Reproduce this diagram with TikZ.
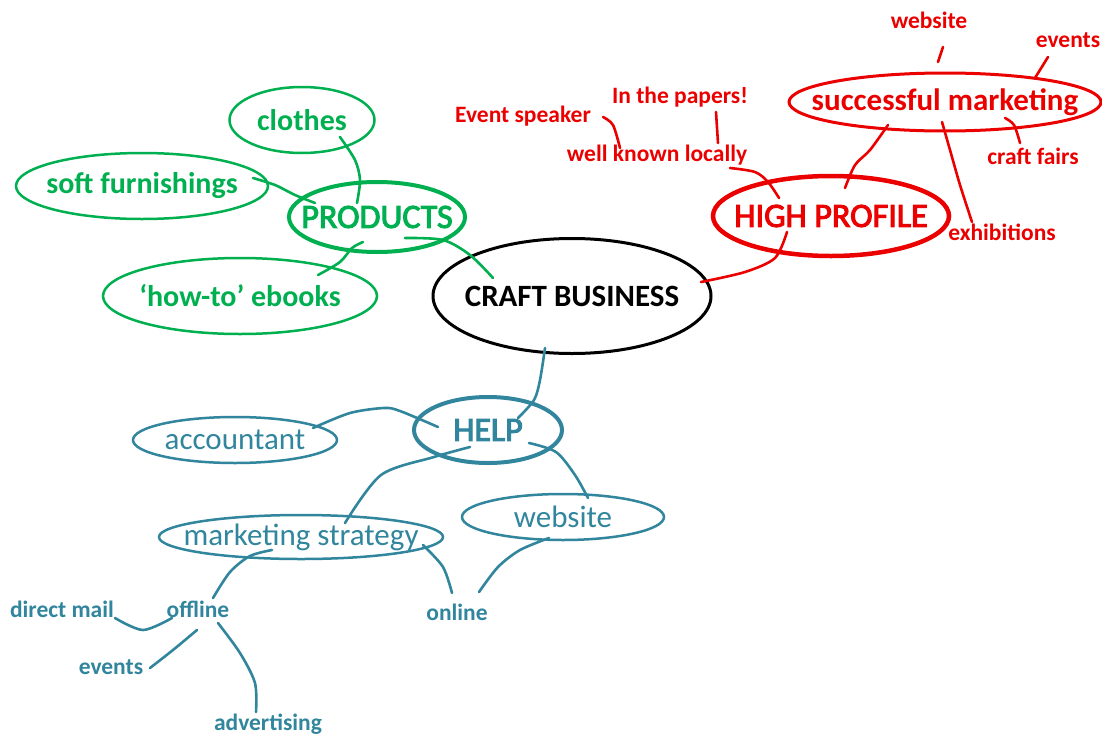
\documentclass[tikz,border=0pt]{standalone}
\usepackage{fontspec}
\setmainfont{Carlito}
\newfontfamily\meio[FakeBold=3]{Carlito}
\usetikzlibrary{shapes.geometric,calc}
\definecolor{verde}{RGB}{0,176,80}
\definecolor{vermelho}{RGB}{235,0,0}
\definecolor{azul}{RGB}{49,133,156}
\tikzset{
  bolha/.style={ellipse, draw, inner sep=-40pt},
  fina/.style={line width=2.5pt},
  grossa/.style={line width=4pt},
  ramo/.style={line width=2.6pt, line cap=round, line join=round},
  grande/.style={font=\fontsize{30}{34}\selectfont\bfseries},
  titulo/.style={font=\fontsize{34}{38}\selectfont\meio},
  medio/.style={font=\fontsize{31}{35}\selectfont},
  pequeno/.style={font=\fontsize{23.5}{26}\selectfont\bfseries, inner sep=1pt}
}
\begin{document}
\begin{tikzpicture}[x=1pt, y=-1pt]
            \useasboundingbox (0,0) rectangle (1102,736);
            % Centro
            \node[bolha, line width=3pt, minimum width=278pt, minimum height=115pt, font=\fontsize{31}{35}\selectfont\bfseries] (craft) at (572,296) {CRAFT BUSINESS};
            % Produtos (verde)
            \begin{scope}[verde]
            \node[bolha, grossa, minimum width=176pt, minimum height=70pt, titulo] (prod) at (377,217) {PRODUCTS};
            \node[bolha, fina, minimum width=145pt, minimum height=66pt, grande] (clothes) at (302,120) {clothes};
            \node[bolha, fina, minimum width=252pt, minimum height=66pt, grande] (soft) at (142,186) {soft furnishings};
            \node[bolha, fina, minimum width=274pt, minimum height=76pt, grande] (howto) at (240,296) {‘how-to’ ebooks};
            \draw[ramo] plot[smooth] coordinates {($(prod)+(28,21)$) (443,240) (470,255) ($(craft)+(-79,-18)$)};
            \draw[ramo] plot[smooth] coordinates {($(clothes)+(38,17)$) (355,160) (360,180) ($(prod)+(-20,-14)$)};
            \draw[ramo] plot[smooth] coordinates {($(soft)+(111,-8)$) (275,185) (295,195) ($(prod)+(-62,-14)$)};
            \draw[ramo] plot[smooth] coordinates {($(howto)+(78,-21)$) (340,262) (352,248) ($(prod)+(-14,25)$)};
            \end{scope}
            % Perfil alto (vermelho)
            \begin{scope}[vermelho]
            \node[bolha, line width=4.5pt, minimum width=236pt, minimum height=80pt, titulo] (high) at (831,216) {HIGH PROFILE};
            \node[bolha, line width=3pt, minimum width=312pt, minimum height=58pt, font=\fontsize{31}{35}\selectfont\bfseries] (succ) at (945,102) {successful marketing};
            \node[pequeno] (pweb) at (929,20) {website};
            \node[pequeno] (pevents) at (1068,40) {events};
            \node[pequeno] (pfairs) at (1033,156) {craft fairs};
            \node[pequeno] (pexhib) at (1002,232) {exhibitions};
            \node[pequeno] (papers) at (680,97) {In the papers!};
            \node[pequeno] (speaker) at (523,116) {Event speaker};
            \node[pequeno] (locally) at (657,155) {well known locally};
            \draw[ramo] plot[smooth] coordinates {($(high)+(-44,16)$) (775,258) (745,272) ($(craft)+(129,-14)$)};
            \draw[ramo] plot[smooth] coordinates {($(succ)+(-57,23)$) (870,150) (855,165) ($(high)+(14,-28)$)};
            \draw[ramo] ($(pweb)+(14,27)$) -- ($(succ)+(-7,-40)$);
            \draw[ramo] ($(pevents)+(-20,17)$) -- ($(succ)+(90,-24)$);
            \draw[ramo] plot[smooth] coordinates {($(succ)+(60,16)$) (1014,125) ($(pfairs)+(-13,-13)$)};
            \draw[ramo] plot[smooth] coordinates {($(succ)+(-3,20)$) (950,150) (960,185) ($(pexhib)+(-30,-10)$)};
            \draw[ramo] ($(papers)+(36,15)$) -- ($(locally)+(61,-12)$);
            \draw[ramo] plot[smooth] coordinates {($(speaker)+(80,1)$) (613,125) ($(locally)+(-37,-7)$)};
            \draw[ramo] plot[smooth] coordinates {($(locally)+(73,13)$) (755,172) (768,182) ($(high)+(-52,-18)$)};
            \end{scope}
            % Ajuda (azul)
            \begin{scope}[azul]
            \node[bolha, grossa, minimum width=148pt, minimum height=66pt, titulo] (help) at (488,430) {HELP};
            \node[bolha, fina, minimum width=204pt, minimum height=46pt, medio] (acc) at (235,440) {accountant};
            \node[bolha, fina, minimum width=202pt, minimum height=46pt, medio] (web) at (563,517) {website};
            \node[bolha, fina, minimum width=284pt, minimum height=44pt, medio] (mstrat) at (301,537) {marketing strategy};
            \node[pequeno] (offline) at (198,609) {offline};
            \node[pequeno] (online) at (457,612) {online};
            \node[pequeno] (dmail) at (62,609) {direct mail};
            \node[pequeno] (tevents) at (111,667) {events};
            \node[pequeno] (advert) at (268,724) {advertising};
            \draw[ramo] plot[smooth] coordinates {($(craft)+(-27,52)$) (540,380) (534,400) ($(help)+(30,-12)$)};
            \draw[ramo] plot[smooth] coordinates {($(acc)+(78,-12)$) (350,413) (384,408) (400,411) ($(help)+(-50,-3)$)};
            \draw[ramo] plot[smooth] coordinates {($(help)+(-18,17)$) (434,457) (381,475) ($(mstrat)+(44,-14)$)};
            \draw[ramo] plot[smooth] coordinates {($(help)+(41,13)$) (556,452) (575,475) ($(web)+(25,-19)$)};
            \draw[ramo] plot[smooth] coordinates {($(mstrat)+(-29,13)$) (250,556) (230,572) ($(offline)+(15,-11)$)};
            \draw[ramo] plot[smooth] coordinates {($(mstrat)+(122,8)$) (443,567) ($(online)+(-5,-19)$)};
            \draw[ramo] plot[smooth] coordinates {($(web)+(-14,21)$) (520,550) (498,567) ($(online)+(22,-20)$)};
            \draw[ramo] plot[smooth] coordinates {($(dmail)+(53,9)$) (143,630) ($(offline)+(-26,9)$)};
            \draw[ramo] plot[smooth] coordinates {($(offline)+(-1,21)$) (173,650) ($(tevents)+(39,1)$)};
            \draw[ramo] plot[smooth] coordinates {($(offline)+(20,14)$) (240,653) (255,683) ($(advert)+(-12,-12)$)};
            \end{scope}
\end{tikzpicture}
\end{document}
